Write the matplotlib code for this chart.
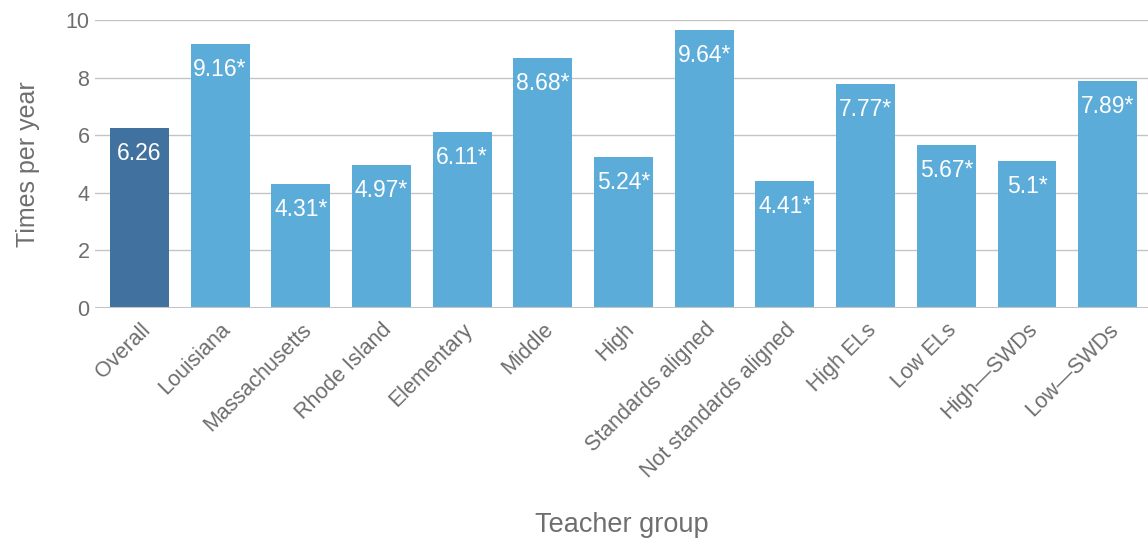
import matplotlib.pyplot as plt
import numpy as np

groups = ["Overall", "Louisiana", "Massachusetts", "Rhode Island", "Elementary",
          "Middle", "High", "Standards aligned", "Not standards aligned",
          "High ELs", "Low ELs", "High\u2014SWDs", "Low\u2014SWDs"]
values = [6.26, 9.16, 4.31, 4.97, 6.11, 8.68, 5.24, 9.64, 4.41, 7.77, 5.67, 5.1, 7.89]
labels = ["6.26", "9.16*", "4.31*", "4.97*", "6.11*", "8.68*", "5.24*", "9.64*",
          "4.41*", "7.77*", "5.67*", "5.1*", "7.89*"]

plt.rcParams['font.family'] = ['Liberation Sans', 'DejaVu Sans']
grey = '#6e6e6e'

fig = plt.figure(figsize=(11.48, 5.42), dpi=100)
ax = fig.add_axes([0.0828, 0.4317, 0.9172, 0.5313])

x = np.arange(len(groups))
colors = ['#41729f'] + ['#5cacda'] * (len(groups) - 1)
bars = ax.bar(x, values, width=0.73, color=colors, zorder=2)

for b, v, lab in zip(bars, values, labels):
    ax.annotate(lab, (b.get_x() + b.get_width() / 2, v), xytext=(0, -10),
                textcoords='offset points', ha='center', va='top',
                color='white', fontsize=16.5)

ax.set_xlim(-0.55, 12.5)
ax.set_ylim(0, 10)
ax.set_yticks([0, 2, 4, 6, 8, 10])
ax.yaxis.grid(True, color='#c4c4c4', linewidth=1, zorder=0)
ax.axhline(0, color='#c4c4c4', linewidth=2.2, zorder=3)
for s in ax.spines.values():
    s.set_visible(False)
ax.tick_params(axis='both', length=0, labelsize=15.5, labelcolor=grey)
ax.tick_params(axis='y', pad=4)
ax.set_xticks(x)
ax.set_xticklabels(groups, rotation=45, ha='right', rotation_mode='anchor')
ax.tick_params(axis='x', pad=8)

ax.set_ylabel('Times per year', fontsize=18, color=grey, labelpad=18)
ax.set_xlabel('Teacher group', fontsize=19.5, color=grey, labelpad=22)

fig.savefig('out.png', dpi=100)
